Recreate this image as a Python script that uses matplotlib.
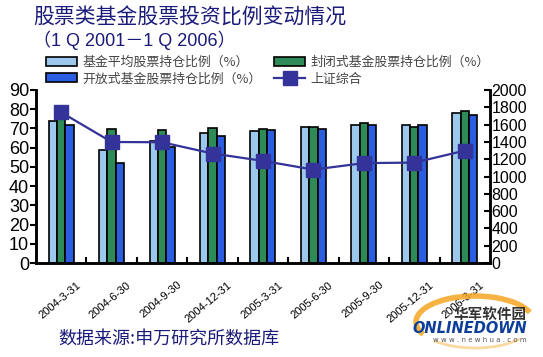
import matplotlib
matplotlib.use("Agg")
import matplotlib.pyplot as plt
import matplotlib.transforms as mtransforms
from matplotlib.patches import Arc
import numpy as np

plt.rcParams['font.family'] = ['Noto Sans CJK SC', 'DejaVu Sans']

dates = ["2004-3-31", "2004-6-30", "2004-9-30", "2004-12-31", "2005-3-31",
         "2005-6-30", "2005-9-30", "2005-12-31", "2006-3-31"]
avg_ratio = [74.0, 59.0, 63.4, 67.4, 68.8, 71.0, 72.0, 72.0, 78.0]
closed_ratio = [74.8, 69.8, 69.4, 70.4, 69.6, 71.0, 72.8, 71.0, 79.0]
open_ratio = [71.8, 51.8, 60.5, 66.2, 69.0, 69.5, 72.0, 72.0, 77.0]
sh_index = [1741, 1399, 1396, 1266, 1181, 1080, 1155, 1161, 1299]

labels = ["基金平均股票持仓比例（%）", "封闭式基金股票持仓比例（%）",
          "开放式基金股票持仓比例（%）", "上证综合"]

fig = plt.figure(figsize=(5.43, 3.57), dpi=100)
ax = fig.add_axes([0.0663, 0.263, 0.836, 0.485])
ax2 = ax.twinx()

x = np.arange(len(dates))
w = 0.165
c_light = '#9cc8ee'
c_green = '#2e8b57'
c_blue = '#2b5de0'
b1 = ax.bar(x - w, avg_ratio, w, color=c_light, edgecolor='black', linewidth=1.2, label=labels[0], zorder=2)
b2 = ax.bar(x, closed_ratio, w, color=c_green, edgecolor='black', linewidth=1.2, label=labels[1], zorder=2)
b3 = ax.bar(x + w, open_ratio, w, color=c_blue, edgecolor='black', linewidth=1.2, label=labels[2], zorder=2)

ax2.set_zorder(ax.get_zorder() + 1)
ax2.patch.set_visible(False)
ln, = ax2.plot(x, sh_index, color='#333399', linewidth=1.6, marker='s', markersize=10,
               markerfacecolor='#333399', markeredgecolor='#333399', label=labels[3])

ax.set_xlim(-0.5, len(dates) - 0.5)
ax.set_ylim(0, 90)
ax2.set_ylim(0, 2000)
ax.set_yticks(np.arange(0, 91, 10))
ax2.set_yticks(np.arange(0, 2001, 200))

for a in (ax, ax2):
    a.spines['top'].set_visible(False)
    for s in ('left', 'right', 'bottom'):
        a.spines[s].set_linewidth(1.8)

ax.set_xticks(x)
ax.set_xticklabels(dates, rotation=40, ha='right', rotation_mode='anchor',
                   fontsize=8, family=['Liberation Sans Narrow', 'Liberation Sans'])
ax.tick_params(axis='x', length=0, pad=12)
offset = mtransforms.ScaledTranslation(15 / 100, 0, fig.dpi_scale_trans)
for t in ax.get_xticklabels():
    t.set_transform(t.get_transform() + offset)
ax.set_xticks(np.arange(0.5, len(dates) - 0.5, 1), minor=True)
ax.tick_params(axis='x', which='minor', direction='in', length=4, width=1.5)

ax.tick_params(axis='y', labelsize=13, length=4, width=1.5, pad=1, direction='out')
ax2.tick_params(axis='y', labelsize=11.5, length=4, width=1.5, pad=1, direction='in')
for t in ax.get_yticklabels() + ax2.get_yticklabels():
    t.set_family(['Liberation Sans', 'DejaVu Sans'])

fig.text(0.061, 0.952, "股票类基金股票投资比例变动情况", fontsize=15, color='#1a1a7a',
         va='center', ha='left')
fig.text(0.061, 0.888, "（1 Q 2001－1 Q 2006）", fontsize=13, color='#1a1a7a',
         va='center', ha='left', family=['Liberation Sans', 'Noto Sans CJK SC'])

leg = fig.legend(handles=[b1, b3, b2, ln], labels=[labels[0], labels[2], labels[1], labels[3]],
                 ncol=2, loc='upper left', bbox_to_anchor=(0.075, 0.857), frameon=False,
                 fontsize=9.3, handlelength=2.4, handleheight=0.7, columnspacing=1.0,
                 labelspacing=0.25, handletextpad=0.4, borderaxespad=0)
for t in leg.get_texts():
    t.set_color('#444444')

fig.text(0.107, 0.05, "数据来源:申万研究所数据库", fontsize=13, color='#1a1a7a',
         va='center', ha='left')

# watermark logo
arc = Arc((475 / 543, 1 - 322 / 357), 118 / 543, 52 / 357, theta1=15, theta2=200,
          transform=fig.transFigure, color='#f5a623', linewidth=4, alpha=0.85)
fig.add_artist(arc)
arc2 = Arc((475 / 543, 1 - 322 / 357), 118 / 543, 52 / 357, theta1=215, theta2=330,
           transform=fig.transFigure, color='#f5c060', linewidth=2, alpha=0.6)
fig.add_artist(arc2)
fig.text(0.97, 0.122, "华军软件园", fontsize=10.5, color='#333333', ha='right', va='center', fontweight='bold')
fig.text(0.97, 0.08, "ONLINEDOWN", fontsize=10.5, color='#0d3f9a', ha='right', va='center',
         fontweight='bold', style='italic', family=['DejaVu Sans'])
fig.text(0.97, 0.047, "w w w . n e w h u a . c o m", fontsize=5, color='#555555', ha='right', va='center',
         family=['DejaVu Sans'])

fig.savefig("out.png", dpi=100)
